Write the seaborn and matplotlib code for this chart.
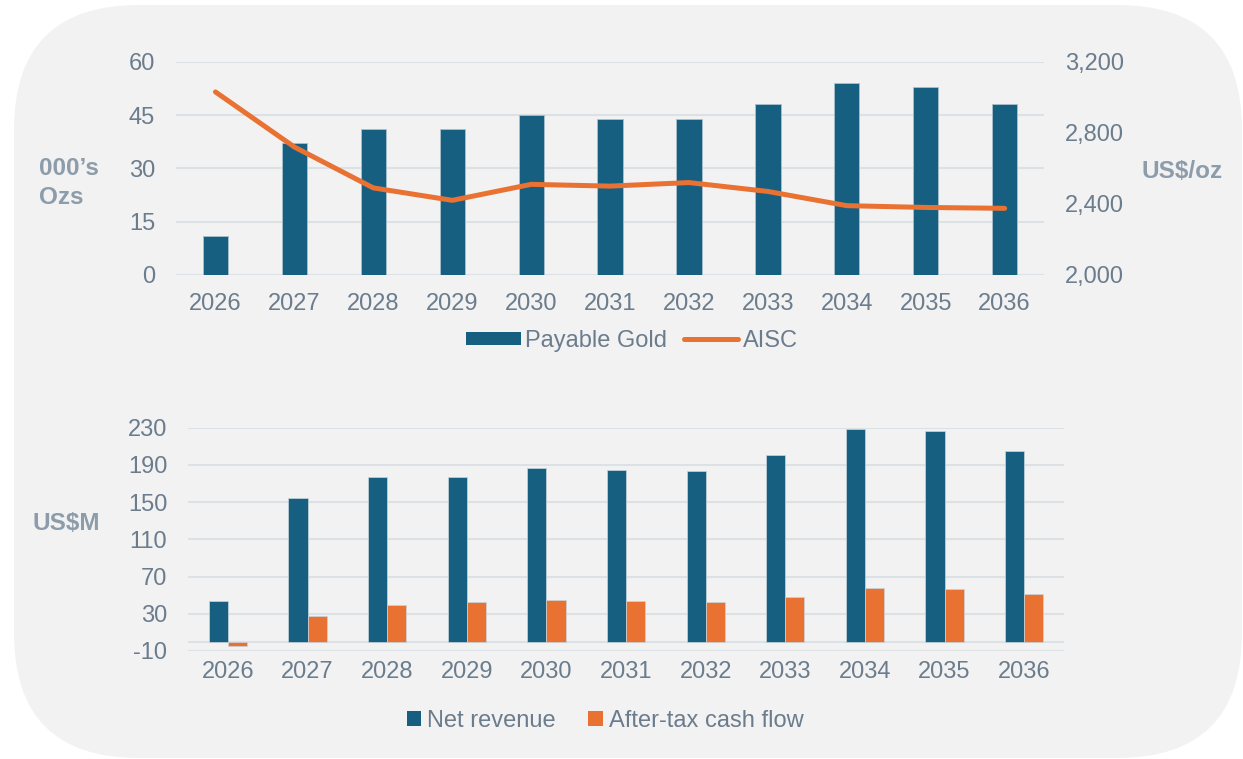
import numpy as np
import pandas as pd
import seaborn as sns
import matplotlib.pyplot as plt
from matplotlib.patches import FancyBboxPatch, Patch
from matplotlib.lines import Line2D
from matplotlib.ticker import FuncFormatter

years = ["2026", "2027", "2028", "2029", "2030", "2031", "2032", "2033", "2034", "2035", "2036"]
payable_gold = [11, 37, 41, 41, 45, 44, 44, 48, 54, 53, 48]
aisc = [3030, 2720, 2490, 2420, 2510, 2500, 2520, 2470, 2390, 2380, 2375]
net_revenue = [44, 154, 177, 176.5, 186.5, 184.5, 183, 201, 229, 226, 205]
after_tax_cf = [-5, 28, 39, 43, 44.5, 43.5, 42.5, 48, 57.5, 56.5, 51]

blue = "#175F81"
orange = "#E97132"
tick_col = "#6B7C8D"
label_col = "#8C9CAA"
grid_col = "#DCE1E5"
panel_col = "#F2F2F2"

sns.set_style("white")
plt.rcParams["font.family"] = ["Liberation Sans", "DejaVu Sans"]
plt.rcParams["axes.unicode_minus"] = False

fs = 17

fig = plt.figure(figsize=(12.43, 7.59), dpi=100)

# rounded background panel
bg = fig.add_axes([0, 0, 1, 1], zorder=-10)
bg.set_xlim(0, 1243)
bg.set_ylim(759, 0)
bg.axis("off")
bg.add_patch(FancyBboxPatch((14, 5), 1228, 753, boxstyle="round,pad=0,rounding_size=125",
                            facecolor=panel_col, edgecolor="none"))

# ---- top chart ----
ax1 = fig.add_axes([0.1416, 0.6377, 0.6984, 0.2810])
ax1.patch.set_alpha(0)
top = pd.DataFrame({"year": years, "gold": payable_gold, "aisc": aisc})
sns.barplot(data=top, x="year", y="gold", color=blue, width=0.32, saturation=1,
            edgecolor="#A9C0CE", linewidth=0.6, ax=ax1, zorder=3)
ax1.set_ylim(0, 60)
ax1.set_yticks([0, 15, 30, 45, 60])
ax1.set_xlim(-0.5, 10.5)
for y in [0, 15, 30, 45, 60]:
    ax1.axhline(y, color=grid_col, lw=1.5, zorder=1)

ax2 = ax1.twinx()
sns.pointplot(data=top, x="year", y="aisc", color=orange, markers="", linewidth=3.6, ax=ax2)
for ln in ax2.lines:
    ln.set_solid_capstyle("round")
    ln.set_solid_joinstyle("round")
ax2.set_ylim(2000, 3200)
ax2.set_yticks([2000, 2400, 2800, 3200])
ax2.yaxis.set_major_formatter(FuncFormatter(lambda v, p: f"{int(v):,}"))
ax2.set_xlim(-0.5, 10.5)

for a in (ax1, ax2):
    a.set_xlabel("")
    a.set_ylabel("")
    for s in a.spines.values():
        s.set_visible(False)
ax1.tick_params(axis="both", length=0, labelsize=fs, labelcolor=tick_col)
ax1.tick_params(axis="x", pad=13)
ax1.tick_params(axis="y", pad=15)
ax2.tick_params(axis="y", length=0, labelsize=fs, labelcolor=tick_col, pad=15)

fig.text(69 / 1243, 1 - 183 / 759, "000\u2019s\nOzs", ha="center", va="center",
         fontsize=17.5, fontweight="bold", color=label_col, linespacing=1.3, multialignment="left")
fig.text(1182 / 1243, 1 - 172 / 759, "US$/oz", ha="center", va="center",
         fontsize=17.5, fontweight="bold", color=label_col)

top_handles = [Patch(facecolor=blue, edgecolor="none"),
               Line2D([0], [0], color=orange, lw=3.6, solid_capstyle="round")]
fig.legend(top_handles, ["Payable Gold", "AISC"], loc="center", bbox_to_anchor=(0.5085, 1 - 341 / 759),
           ncol=2, frameon=False, fontsize=fs, labelcolor=tick_col, handlelength=2.3,
           handleheight=0.5, handletextpad=0.2, columnspacing=0.7)

# ---- bottom chart ----
ax3 = fig.add_axes([0.1513, 0.1423, 0.7047, 0.2942])
ax3.patch.set_alpha(0)
bottom = pd.DataFrame({
    "year": years * 2,
    "value": net_revenue + after_tax_cf,
    "series": ["Net revenue"] * len(years) + ["After-tax cash flow"] * len(years),
})
sns.barplot(data=bottom, x="year", y="value", hue="series",
            palette={"Net revenue": blue, "After-tax cash flow": orange},
            width=0.48, gap=0, saturation=1, edgecolor="#C9D6DE", linewidth=0.5,
            ax=ax3, zorder=3, legend=False)
ax3.set_ylim(-10, 230)
ax3.set_yticks([-10, 30, 70, 110, 150, 190, 230])
ax3.set_xlim(-0.5, 10.5)
for y in [-10, 0, 30, 70, 110, 150, 190, 230]:
    ax3.axhline(y, color=grid_col, lw=1.5, zorder=1)
ax3.set_xlabel("")
ax3.set_ylabel("")
for s in ax3.spines.values():
    s.set_visible(False)
ax3.tick_params(axis="both", length=0, labelsize=fs, labelcolor=tick_col)
ax3.tick_params(axis="x", pad=7)
ax3.tick_params(axis="y", pad=15)

fig.text(66 / 1243, 1 - 523 / 759, "US$M", ha="center", va="center",
         fontsize=17.5, fontweight="bold", color=label_col)

bot_handles = [Patch(facecolor=blue, edgecolor="none"), Patch(facecolor=orange, edgecolor="none")]
fig.legend(bot_handles, ["Net revenue", "After-tax cash flow"], loc="center",
           bbox_to_anchor=(0.4867, 1 - 721 / 759), ncol=2, frameon=False, fontsize=fs,
           labelcolor=tick_col, handlelength=0.6, handleheight=0.6, handletextpad=0.25,
           columnspacing=1.4)

fig.savefig("out.png", dpi=100, facecolor="white")
